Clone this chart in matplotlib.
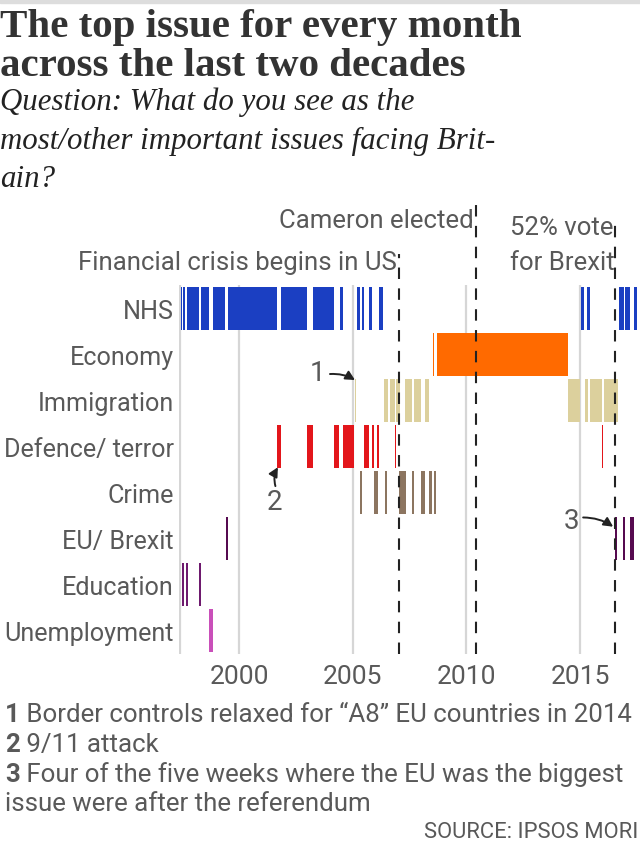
import matplotlib
matplotlib.use("Agg")
import matplotlib.pyplot as plt
from matplotlib.patches import Rectangle

# ---------------- data ----------------
categories = ["NHS", "Economy", "Immigration", "Defence/ terror", "Crime",
              "EU/ Brexit", "Education", "Unemployment"]
colors = ["#1b3fc2", "#ff6a00", "#dcd09d", "#e3161b", "#8c7560",
          "#560a50", "#6e1a6e", "#c94fb9"]

nhs_start = [1997.44, 1997.55, 1997.73, 1998.33, 1998.84, 1999.52, 2001.85, 2003.25, 2004.43,
             2005.19, 2005.41, 2005.73, 2006.17, 2015.03, 2015.28, 2016.69, 2016.95, 2017.36]
nhs_end = [1997.51, 1997.64, 1998.25, 1998.67, 1999.40, 2001.67, 2002.99, 2004.18, 2004.58,
           2005.33, 2005.51, 2005.85, 2006.32, 2015.16, 2015.44, 2016.91, 2017.19, 2017.52]
economy_start = [2008.51, 2008.69]
economy_end = [2008.58, 2014.45]
immigration_start = [2005.09, 2006.39, 2006.62, 2006.90, 2007.32, 2007.69, 2008.18,
                     2014.45, 2015.21, 2015.43, 2016.06]
immigration_end = [2005.14, 2006.56, 2006.86, 2007.08, 2007.60, 2008.02, 2008.35,
                   2014.99, 2015.35, 2015.94, 2016.67]
defence_start = [2001.66, 2003.00, 2004.18, 2004.58, 2005.51, 2005.85, 2006.08, 2006.84, 2015.94]
defence_end = [2001.83, 2003.24, 2004.41, 2005.07, 2005.73, 2005.93, 2006.17, 2006.90, 2016.00]
crime_start = [2005.32, 2005.93, 2006.43, 2007.02, 2007.59, 2008.00, 2008.34, 2008.57]
crime_end = [2005.41, 2006.11, 2006.52, 2007.34, 2007.68, 2008.18, 2008.48, 2008.66]
eu_start = [1999.42, 2016.51, 2016.87, 2017.19]
eu_end = [1999.50, 2016.63, 2016.95, 2017.36]
education_start = [1997.49, 1997.67, 1998.24]
education_end = [1997.58, 1997.75, 1998.33]
unemployment_start = [1998.67]
unemployment_end = [1998.84]

starts = [nhs_start, economy_start, immigration_start, defence_start, crime_start,
          eu_start, education_start, unemployment_start]
ends = [nhs_end, economy_end, immigration_end, defence_end, crime_end,
        eu_end, education_end, unemployment_end]

year_ticks = [2000, 2005, 2010, 2015]
x_min, x_max = 1997.375, 2017.63

event_years = [2007.05, 2010.44, 2016.55]
event_tops = [-1.17, -2.27, -1.98]

# ---------------- styling ----------------
SANS = ["Roboto", "DejaVu Sans"]
GREY = "#595959"
W, H = 640, 845

fig = plt.figure(figsize=(6.4, 8.45), dpi=100)
fig.patch.set_facecolor("white")
fig.patches.append(Rectangle((0, 1 - 4 / H), 1, 4 / H, transform=fig.transFigure,
                             color="#dddddd", zorder=0))

def fy(px):
    return 1 - px / H

# titles
fig.text(0.0, fy(37), "The top issue for every month", family="Liberation Serif",
         weight="bold", size=29.5, color="#333333", va="baseline")
fig.text(0.0, fy(76), "across the last two decades", family="Liberation Serif",
         weight="bold", size=29.5, color="#333333", va="baseline")
for txt, y in [("Question: What do you see as the", 110),
               ("most/other important issues facing Brit-", 149),
               ("ain?", 187)]:
    fig.text(0.0, fy(y), txt, family="Liberation Serif", style="italic",
             size=22.2, color="#222222", va="baseline")

# main axes
left = 179.3 / W
bottom = 1 - 655 / H
top = 1 - 286 / H
ax = fig.add_axes([left, bottom, 1 - left, top - bottom])
ax.set_xlim(x_min, x_max)
ax.set_ylim(len(categories) - 0.5, -0.5)
for s in ax.spines.values():
    s.set_visible(False)

for gx in [x_min + 0.02] + year_ticks:
    ax.axvline(gx, color="#d6d6d6", lw=1.6, zorder=0)

for i, (st, en) in enumerate(zip(starts, ends)):
    widths = [e - s for s, e in zip(st, en)]
    ax.barh([i] * len(st), widths, left=st, height=0.93, color=colors[i],
            edgecolor="none", zorder=2)

for ex, et in zip(event_years, event_tops):
    ax.plot([ex, ex], [len(categories) - 0.5, et], color="#222222", lw=1.5,
            dashes=(5.5, 4.5), clip_on=False, zorder=3)

ax.set_xticks(year_ticks)
ax.set_xticklabels([str(y) for y in year_ticks], family=SANS, size=19, color=GREY)
ax.set_yticks(range(len(categories)))
ax.set_yticklabels(categories, family=SANS, size=18.1, color=GREY)
ax.tick_params(length=0, axis="x", pad=7)
ax.tick_params(length=0, axis="y", pad=4)

# event labels
LBL = 18.5
ax.text(2006.95, -1.0, "Financial crisis begins in US", family=SANS, size=LBL,
        color=GREY, ha="right", va="center")
ax.text(2010.3, -1.91, "Cameron elected", family=SANS, size=LBL,
        color=GREY, ha="right", va="center")
ax.text(2016.45, -1.76, "52% vote", family=SANS, size=LBL,
        color=GREY, ha="right", va="center")
ax.text(2016.5, -1.0, "for Brexit", family=SANS, size=LBL,
        color=GREY, ha="right", va="center")

# numbered annotations (number text + separate arrow)
arrow = dict(arrowstyle="-|>,head_length=0.55,head_width=0.28", color="#222222",
             lw=1.4, shrinkA=0, shrinkB=0)
num_labels = [("1", 2003.47, 1.39), ("2", 2001.54, 4.2), ("3", 2014.6, 4.6)]
arrow_from = [(2004.0, 1.43), (2001.6, 3.86), (2015.13, 4.54)]
arrow_to = [(2005.1, 1.56), (2001.71, 3.45), (2016.45, 4.74)]
arrow_rad = [-0.15, -0.2, -0.15]
for (n, x, y), a0, a1, r in zip(num_labels, arrow_from, arrow_to, arrow_rad):
    ax.text(x, y, n, family=SANS, size=20, color=GREY, ha="center", va="center")
    ax.annotate("", xy=a1, xytext=a0,
                arrowprops=dict(arrow, connectionstyle=f"arc3,rad={r}"))

# footer notes
FT = 18.6
notes = [("1", " Border controls relaxed for \u201cA8\u201d EU countries in 2014", 722),
         ("2", " 9/11 attack", 752),
         ("3", " Four of the five weeks where the EU was the biggest", 782),
         ("", "issue were after the referendum", 811)]
renderer = fig.canvas.get_renderer()
for num, txt, y in notes:
    x0 = 0.008
    if num:
        t = fig.text(x0, fy(y), num, family=SANS, weight="bold", size=FT,
                     color=GREY, va="baseline")
        bb = t.get_window_extent(renderer=renderer)
        x0 = bb.x1 / W
    fig.text(x0, fy(y), txt, family=SANS, size=FT, color=GREY, va="baseline")

fig.text(0.998, fy(838), "SOURCE: IPSOS MORI", family=SANS, size=15.8, color=GREY,
         ha="right", va="baseline")

fig.savefig("out.png", dpi=100)
